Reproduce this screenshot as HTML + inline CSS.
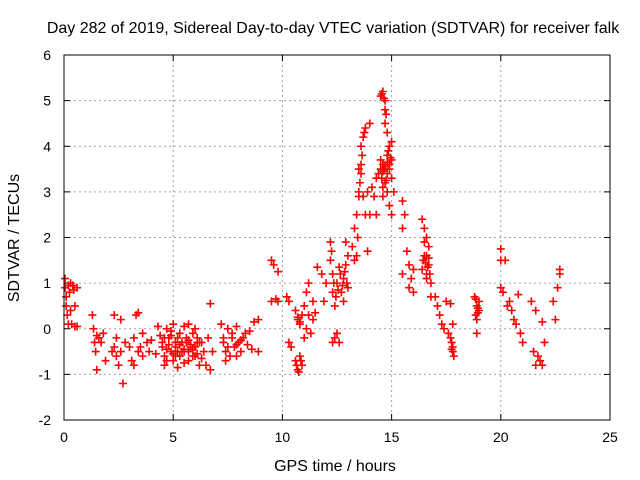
<!DOCTYPE html>
<html><head><meta charset="utf-8"><style>
body{margin:0;background:#fff;}
svg{display:block;font-family:"Liberation Sans",sans-serif;}
</style></head><body>
<svg id="chart" width="640" height="480" viewBox="0 0 640 480">
<rect width="640" height="480" fill="#fff"/>
<text x="333" y="33" font-size="16" text-anchor="middle" fill="#000">Day 282 of 2019, Sidereal Day-to-day VTEC variation (SDTVAR) for receiver falk</text>
<g id="grid"></g>
<g id="ticks"></g>
<g id="marks"></g>
<rect x="64" y="55" width="546" height="365" fill="none" stroke="#000" stroke-width="1"/>
<text x="335" y="471" font-size="16" text-anchor="middle">GPS time / hours</text>
<text transform="translate(19,238) rotate(-90)" font-size="16" text-anchor="middle">SDTVAR / TECUs</text>
</svg>
<script>
const xTicks=[0,5,10,15,20,25];
const yTicks=[-2,-1,0,1,2,3,4,5,6];
const times=[0.05,0.05,0.1,0.1,0.15,0.2,0.25,0.3,0.35,0.4,0.45,0.5,0.5,0.6,0.6,0.2,0.3,
1.3,1.35,1.4,1.45,1.5,1.6,1.7,1.8,1.9,1.5,
2.3,2.3,2.4,2.5,2.6,2.7,2.6,2.8,2.2,2.4,
3.0,3.1,3.2,3.3,3.4,3.5,3.6,3.2,3.4,3.6,3.8,3.9,4.0,4.2,4.4,4.5,4.6,4.7,4.8,4.9,5.0,5.0,5.1,5.2,5.3,5.4,5.5,5.6,5.7,5.8,5.9,6.0,6.1,6.2,6.3,6.4,6.5,6.6,6.7,6.7,6.8,4.3,4.6,5.2,5.5,5.7,6.0,
4.5,4.6,4.7,4.8,4.9,5.0,5.1,5.2,5.3,5.4,5.5,5.6,5.7,5.8,5.9,6.0,6.1,6.2,6.3,4.7,4.9,5.1,5.3,5.5,5.7,5.9,6.1,
7.2,7.3,7.4,7.5,7.6,7.7,7.8,7.9,8.0,8.1,8.2,8.3,8.4,8.5,8.6,8.7,8.9,8.9,7.4,7.9,7.3,7.5,7.7,7.9,8.1,
9.5,9.6,9.8,9.5,9.7,9.8,
10.2,10.3,10.3,10.4,10.6,10.6,10.7,10.7,10.8,10.8,10.9,10.9,11.0,11.0,11.1,11.1,11.2,11.2,11.3,11.4,11.4,11.5,11.6,11.8,11.9,12.0,10.65,10.75,10.85,10.7,10.8,
12.2,12.2,12.3,12.3,12.3,12.4,12.4,12.5,12.5,12.6,12.7,12.8,12.9,12.9,12.8,13.0,12.6,13.0,12.25,12.35,12.45,12.55,12.65,12.75,12.85,12.95,
13.2,13.3,13.3,13.4,13.5,13.5,13.6,13.6,13.7,13.4,13.7,13.8,13.8,13.9,13.9,14.0,14.0,14.1,14.2,14.3,14.3,13.55,13.45,13.65,13.75,13.5,13.6,
14.4,14.5,14.6,14.6,14.7,14.7,14.7,14.8,14.8,14.9,14.9,15.0,15.0,14.5,14.6,14.9,15.0,15.1,14.8,14.55,14.65,14.75,14.5,14.6,14.7,14.8,14.9,15.0,14.55,14.65,14.75,14.85,14.95,14.6,14.7,14.8,
15.5,15.6,15.5,15.5,15.7,15.8,15.8,15.9,16.0,16.0,
16.4,16.5,16.5,16.6,16.6,16.7,16.7,16.8,16.8,16.4,16.45,16.55,16.65,16.75,16.6,16.7,16.5,16.6,
17.0,17.1,17.2,17.3,17.4,17.5,17.6,17.7,17.8,17.7,17.8,17.8,17.75,17.75,17.85,
18.8,18.9,18.9,18.9,19.0,19.0,18.85,18.95,18.85,18.95,
20.0,20.0,20.0,20.1,20.2,20.3,20.4,20.5,20.6,20.7,20.8,20.9,21.0,
21.4,21.5,21.6,21.6,21.7,21.8,21.9,21.9,22.0,
22.4,22.5,22.6,22.7,22.7];
const sdtvar=[1.1,0.9,0.7,0.5,0.3,0.95,0.8,0.4,0.1,0.95,0.85,0.5,0.05,0.9,0.05,0.1,1.0,
0.3,0.0,-0.3,-0.5,-0.9,-0.2,-0.3,-0.1,-0.7,-0.15,
0.3,-0.4,-0.6,-0.8,-0.5,-1.2,0.2,-0.3,-0.5,-0.2,
-0.4,-0.7,-0.2,0.3,0.35,-0.4,-0.6,-0.8,-0.5,-0.1,-0.3,-0.5,-0.25,-0.55,-0.15,-0.4,-0.6,0.0,-0.2,-0.5,-0.7,0.1,-0.3,-0.85,-0.1,-0.5,0.05,-0.3,-0.7,-0.4,-0.1,-0.6,-0.2,-0.8,-0.3,-0.5,-0.8,-0.2,0.55,-0.9,-0.5,0.05,-0.8,-0.5,-0.5,0.1,0.0,
-0.3,-0.2,-0.45,-0.35,-0.15,-0.55,-0.4,-0.2,-0.6,-0.3,-0.45,-0.2,-0.5,-0.35,-0.6,-0.4,-0.55,-0.3,-0.65,-0.7,-0.05,-0.6,-0.35,-0.75,-0.25,-0.45,-0.3,
0.1,-0.3,-0.5,0.0,-0.6,-0.2,-0.4,0.05,-0.3,-0.5,-0.2,-0.1,-0.35,-0.05,-0.45,0.15,0.2,-0.5,-0.7,-0.6,-0.2,-0.4,-0.1,-0.35,-0.25,
1.5,1.4,1.25,0.6,0.65,0.6,
0.7,0.6,-0.3,-0.4,0.4,-0.7,0.2,-0.9,0.1,-0.6,0.3,-0.8,0.5,-0.2,0.0,0.8,0.3,1.0,-0.1,0.6,0.2,0.35,1.35,1.2,0.6,1.0,-0.8,-0.95,-0.7,0.25,0.15,
1.9,1.5,1.2,0.8,-0.3,0.5,-0.2,1.0,-0.1,1.35,0.8,1.1,1.4,1.9,0.6,0.9,-0.3,1.6,1.7,1.0,0.7,0.85,1.2,0.95,1.25,1.0,
1.8,2.2,1.5,2.5,2.9,3.5,4.0,3.4,2.9,1.6,4.2,4.4,2.5,3.0,1.7,4.5,2.5,3.1,2.9,2.5,3.3,3.2,2.0,3.8,4.3,3.0,3.6,
3.4,5.1,5.2,3.6,5.0,4.5,3.2,4.3,3.8,4.0,3.5,4.1,3.3,3.5,2.9,2.7,2.5,3.0,3.0,5.15,5.05,4.7,3.7,3.45,3.55,3.4,3.6,3.7,3.3,3.5,3.25,3.9,3.75,3.1,4.8,3.65,
2.8,2.5,2.2,1.2,1.7,1.4,0.9,1.1,0.8,1.3,
2.4,2.2,1.6,2.0,1.2,1.8,1.4,1.0,0.7,1.3,1.5,1.45,1.35,1.2,1.6,1.55,1.9,1.1,
0.7,0.5,0.3,0.1,0.0,0.6,-0.1,-0.2,-0.4,0.55,0.1,-0.5,-0.3,-0.45,-0.6,
0.7,0.5,0.2,-0.1,0.4,0.6,0.65,0.35,0.3,0.45,
1.75,1.5,0.9,0.8,1.5,0.5,0.6,0.4,0.2,0.1,0.75,-0.1,-0.3,
0.6,-0.5,-0.8,0.4,-0.6,-0.7,-0.8,0.15,-0.3,
0.6,0.2,0.9,1.2,1.3];
const X0=64,X1=610,Y0=420,Y1=55;
function xs(v){return X0+(v-0)/(25-0)*(X1-X0);}
function ys(v){return Y0-(v-(-2))/(6-(-2))*(Y0-Y1);}
const NS="http://www.w3.org/2000/svg";
const grid=document.getElementById('grid'),ticks=document.getElementById('ticks'),marks=document.getElementById('marks');
function mk(tag,attrs,parent){const e=document.createElementNS(NS,tag);for(const k in attrs)e.setAttribute(k,attrs[k]);parent.appendChild(e);return e;}
xTicks.forEach(t=>{const x=xs(t);
 if(t>0&&t<25){const g=mk('line',{x1:x,x2:x,y1:Y1,y2:Y0,stroke:'#a0a0a0','stroke-dasharray':'2,3'},grid);
 
 }
 mk('line',{x1:x,x2:x,y1:Y0,y2:Y0-6,stroke:'#000'},ticks);
 mk('line',{x1:x,x2:x,y1:Y1,y2:Y1+6,stroke:'#000'},ticks);
 const l=mk('text',{x:x,y:442,'font-size':14,'text-anchor':'middle'},ticks);l.textContent=t;
 
 
});
yTicks.forEach(t=>{const y=ys(t);
 if(t>-2&&t<6){const g=mk('line',{x1:X0,x2:X1,y1:y,y2:y,stroke:'#a0a0a0','stroke-dasharray':'2,3'},grid);
 
 }
 mk('line',{x1:X0,x2:X0+6,y1:y,y2:y,stroke:'#000'},ticks);
 mk('line',{x1:X1,x2:X1-6,y1:y,y2:y,stroke:'#000'},ticks);
 const l=mk('text',{x:51,y:y+5,'font-size':14,'text-anchor':'end'},ticks);l.textContent=t;
 
 
});
times.forEach((t,i)=>{const x=xs(t),y=ys(sdtvar[i]);
 const p=mk('path',{d:`M${x-4},${y}h8M${x},${y-4}v8`,stroke:'#f00','stroke-width':1.6,fill:'none'},marks);
 
 
});
</script>
</body></html>
